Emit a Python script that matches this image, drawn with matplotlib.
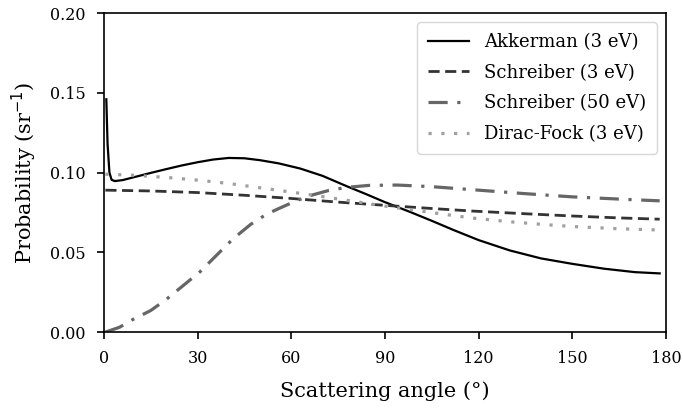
import matplotlib.pyplot as plt

# values
akk_angle = [0.8, 1.2, 1.8, 2.5, 3.5, 6, 10, 15, 20, 25, 30, 35, 40, 45, 50, 56, 63,
             70, 78, 84, 90, 98, 105, 112, 120, 130, 140, 150, 160, 170, 178]
akk_prob = [0.146, 0.118, 0.100, 0.0955, 0.0947, 0.0953, 0.0973, 0.0998, 0.1022,
            0.1045, 0.1065, 0.1082, 0.1092, 0.1090, 0.1078, 0.1058, 0.1025, 0.0980,
            0.0913, 0.0865, 0.0815, 0.0754, 0.0698, 0.0640, 0.0577, 0.0512, 0.0462,
            0.0428, 0.0398, 0.0376, 0.0368]

sch3_angle = [0.5, 15, 30, 45, 60, 75, 90, 105, 118, 135, 150, 165, 178]
sch3_prob = [0.089, 0.0885, 0.0875, 0.0858, 0.0838, 0.0815, 0.0795, 0.0775,
             0.0759, 0.0742, 0.0728, 0.0716, 0.0708]

sch50_angle = [0.5, 5, 9.4, 15, 20, 25, 30.8, 36, 41.4, 47, 52, 56.4, 61.8, 67,
               72, 78, 85, 94, 105, 120, 135, 150, 165, 178]
sch50_prob = [0.0, 0.003, 0.008, 0.0135, 0.0205, 0.0285, 0.0378, 0.048, 0.0585,
              0.0675, 0.0738, 0.0778, 0.0825, 0.0861, 0.0888, 0.0908, 0.0920, 0.0922,
              0.0912, 0.0890, 0.0868, 0.0848, 0.0834, 0.0823]

df_angle = [0.5, 10, 20, 30, 40, 50, 60, 70, 80, 90, 100, 110, 118, 130, 140,
            150, 165, 178]
df_prob = [0.0990, 0.0983, 0.0970, 0.0953, 0.0932, 0.0905, 0.0878, 0.0850,
           0.0820, 0.0790, 0.0763, 0.0736, 0.0715, 0.0692, 0.0676, 0.0662,
           0.0648, 0.0640]

x_ticks = [0, 30, 60, 90, 120, 150, 180]
y_ticks = [0.00, 0.05, 0.10, 0.15, 0.20]

plt.rcParams['font.family'] = ['DejaVu Serif']

fig = plt.figure(figsize=(6.83, 4.11), dpi=100)
ax = fig.add_axes([0.152, 0.192, 0.823, 0.776])

ax.plot(akk_angle, akk_prob, color='black', lw=1.6, label='Akkerman (3 eV)')
ax.plot(sch3_angle, sch3_prob, color='#333333', lw=2.0, linestyle=(0, (4, 2)),
        label='Schreiber (3 eV)')
ax.plot(sch50_angle, sch50_prob, color='#666666', lw=2.3,
        linestyle=(0, (6, 3, 1, 3)), label='Schreiber (50 eV)')
ax.plot(df_angle, df_prob, color='#a0a0a0', lw=2.3, linestyle=(0, (1, 3)),
        label='Dirac-Fock (3 eV)')

ax.set_xlim(0, 180)
ax.set_ylim(0, 0.2)
ax.set_xticks(x_ticks)
ax.set_yticks(y_ticks)
ax.set_yticklabels(['%.2f' % v for v in y_ticks])
ax.tick_params(labelsize=11.5, length=5, width=1.2, pad=8)
for s in ax.spines.values():
    s.set_linewidth(1.2)

ax.set_xlabel('Scattering angle (°)', fontsize=15, labelpad=10)
ax.set_ylabel('Probability (sr$^{-1}$)', fontsize=15, labelpad=8)

ax.legend(loc='upper right', fontsize=13, handlelength=2.3,
          labelspacing=0.7, borderpad=0.6)

fig.savefig('out.png', dpi=100)
